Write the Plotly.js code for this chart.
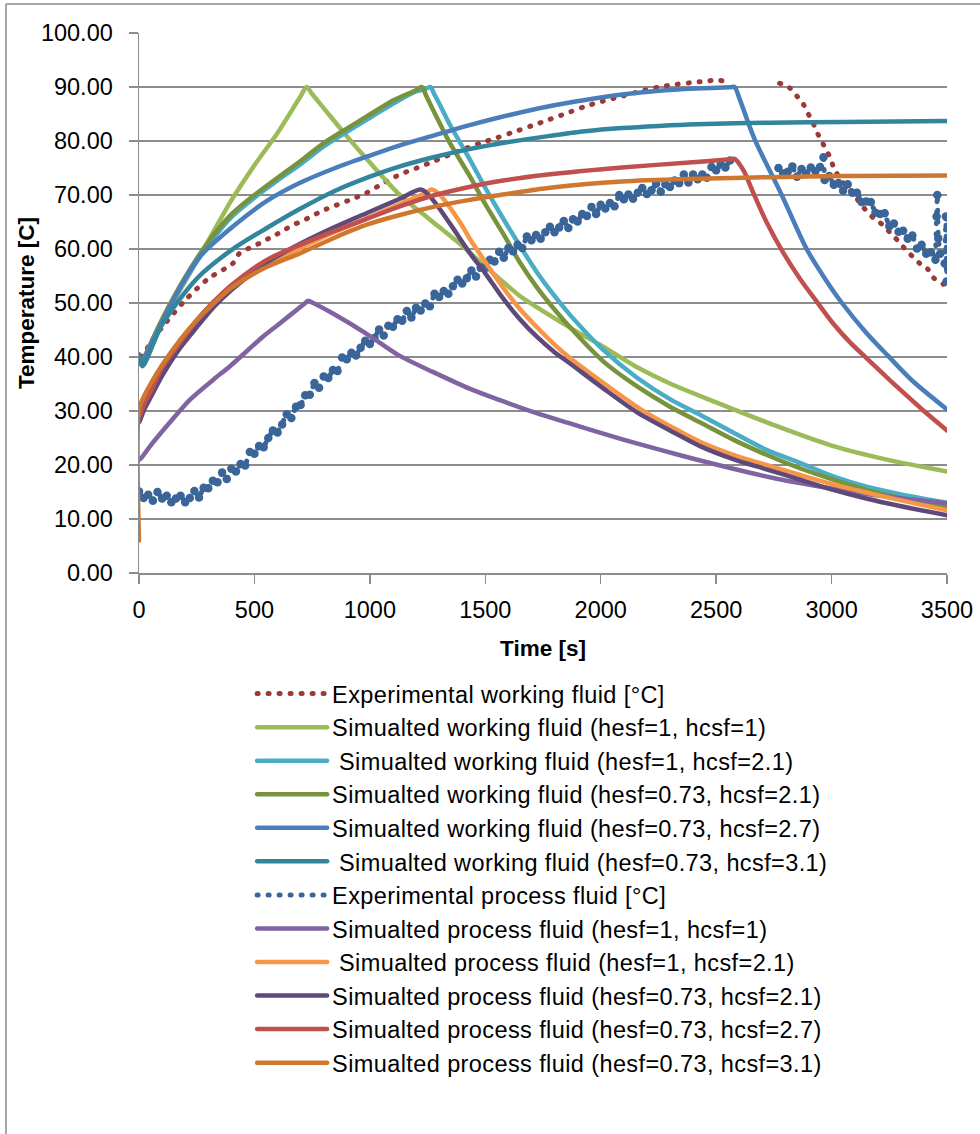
<!DOCTYPE html>
<html><head><meta charset="utf-8">
<script src="https://cdn.plot.ly/plotly-3.0.1.min.js"></script>
<style>
html,body{margin:0;padding:0;background:#fff;}
#chart{width:980px;height:1134px;}
.js-line{stroke-linecap:round;}
.legendtext{letter-spacing:0.4px;}
</style></head><body><div id="chart"></div>
<script>
// ---- Series names ----
const names = [
  "Experimental working fluid [°C]",
  "Simualted working fluid (hesf=1, hcsf=1)",
  "\u00A0Simualted working fluid (hesf=1, hcsf=2.1)",
  "Simualted working fluid (hesf=0.73, hcsf=2.1)",
  "Simualted working fluid (hesf=0.73, hcsf=2.7)",
  "\u00A0Simualted working fluid (hesf=0.73, hcsf=3.1)",
  "Experimental process fluid [°C]",
  "Simualted process fluid (hesf=1, hcsf=1)",
  "\u00A0Simualted process fluid (hesf=1, hcsf=2.1)",
  "Simualted process fluid (hesf=0.73, hcsf=2.1)",
  "Simualted process fluid (hesf=0.73, hcsf=2.7)",
  "Simualted process fluid (hesf=0.73, hcsf=3.1)"
];

// 1. Experimental working fluid
const tExpW = [10,33,55,100,200,300,408,437,480,524,560,596,632,668,705,740,777,812,842,914,986,1059,1131,1203,1275,1347,1420,1492,1550,1611,1700,1772,1850,1932,2010,2092,2170,2253,2330,2413,2460,2509,2557,2580,2775,2819,2848,2874,2894,2917,2935,2956,2978,2997,3011,3021,3040,3070,3101,3130,3159,3188,3224,3260,3293,3322,3351,3383,3416,3441,3472,3500];
const yExpW = [40,41.4,43,45.5,50.5,54.5,57.4,59.3,60.2,61.1,61.9,62.7,63.6,64.5,65.1,65.9,66.7,67.4,67.9,69.1,70.4,72.2,73.8,75,76.2,77.5,78.7,79.8,80.6,81.5,82.8,83.9,85.1,86.4,87.4,88.3,89.2,90,90.5,90.9,91.1,91.3,90.7,null,90.7,89.8,88.4,87.1,85.4,83.6,81.8,80,78.3,76.6,74.8,74.1,72.8,71.3,69.8,68.1,66.7,65.5,64.4,62.7,61.3,59.8,58.6,57.3,56.3,54.7,53.7,53.3];

// 2. Simulated working fluid (hesf=1, hcsf=1)
const tW1 = [10,100,200,300,400,500,600,700,726,750,800,900,1000,1130,1250,1400,1500,1650,1750,1900,2000,2150,2300,2500,2750,3000,3250,3500];
const yW1 = [38.7,46.5,54,61.5,69,75.5,81.5,88.3,90,88.7,86.1,80.9,76,70,65.8,60.6,56.8,51.3,48.5,44.6,42.2,38.3,35.1,31.6,27.4,23.6,20.9,18.8];

// 3. Simulated working fluid (hesf=1, hcsf=2.1)
const tW2 = [10,100,200,300,400,500,600,700,800,900,1000,1100,1200,1240,1262,1280,1300,1347,1434,1500,1578,1650,1722,1800,1867,2011,2156,2300,2444,2574,2718,2863,3007,3151,3296,3500];
const yW2 = [38.6,46.6,54.3,60.7,65.9,69.5,72.7,75.7,79,81.7,84.3,86.9,89.2,89.6,90,88.6,87,83,76.5,71.3,65.6,60.6,55.8,51.3,47.8,41.3,36.2,32.2,29,26,22.8,20.4,17.9,16,14.6,13];

// 4. Simulated working fluid (hesf=0.73, hcsf=2.1)
const tW3 = [10,100,200,300,400,500,600,700,800,900,1000,1100,1200,1225,1245,1300,1347,1434,1500,1578,1650,1722,1800,1867,2011,2156,2300,2444,2574,2718,2863,3007,3151,3296,3500];
const yW3 = [38.7,47,54.8,61.3,66.4,70,73.2,76.3,79.6,82.3,84.9,87.5,89.4,90,88.3,83.5,79.6,73.4,68.3,62.8,57.5,53,48.8,45.5,39.2,34.6,30.8,27.6,24.7,21.9,19.4,17.3,15.4,13.9,12.2];

// 5. Simulated working fluid (hesf=0.73, hcsf=2.7)
const tW4 = [10,100,200,264,408,554,700,850,1000,1130,1275,1420,1564,1772,1932,2092,2253,2413,2560,2580,2600,2665,2784,2892,2970,3045,3150,3245,3350,3500];
const yW4 = [38.6,46.5,54.5,58.6,64.2,68.9,72.3,75,77.3,79.2,81,82.8,84.4,86.4,87.6,88.6,89.3,89.7,89.95,90,88,80.5,70,60,54.6,50,44.5,40.2,35.6,30.3];

// 6. Simulated working fluid (hesf=0.73, hcsf=3.1)
const tW5 = [0,15,100,250,400,550,700,850,1000,1130,1275,1420,1600,1772,1932,2092,2253,2413,2733,3054,3500];
const yW5 = [40.5,38.3,46,54.5,59.8,63.8,67.5,70.8,73.4,75.3,77,78.4,79.8,80.9,81.8,82.4,82.8,83.1,83.4,83.5,83.7];

// 7. Experimental process fluid
const tExpP = [0,20,40,60,80,100,120,140,160,180,200,220,240,260,280,300,320,340,360,380,400,420,440,460,480,500,520,540,560,580,600,620,640,660,680,700,720,740,760,780,800,820,840,860,880,900,920,940,960,980,1000,1020,1040,1060,1080,1100,1120,1140,1160,1180,1200,1220,1240,1260,1280,1300,1320,1340,1360,1380,1400,1420,1440,1460,1480,1500,1520,1540,1560,1580,1600,1620,1640,1660,1680,1700,1720,1740,1760,1780,1800,1820,1840,1860,1880,1900,1920,1940,1960,1980,2000,2020,2040,2060,2080,2100,2120,2140,2160,2180,2200,2220,2240,2260,2280,2300,2320,2340,2360,2380,2400,2420,2440,2460,2480,2500,2520,2540,2560,2600,2770,2790,2810,2830,2850,2870,2890,2910,2930,2950,2965,2970,2990,3010,3030,3050,3070,3090,3110,3130,3150,3170,3190,3210,3230,3250,3270,3290,3310,3330,3350,3370,3390,3410,3430,3450,3455,3458,3462,3470,3490,3495,3498,3500];
const yExpP = [15.1,13.9,14.5,13.4,15.0,13.8,14.3,13.1,13.8,14.3,13.1,13.9,15.2,14.0,15.8,15.7,17.1,16.8,18.6,17.4,19.3,18.8,20.2,19.9,22.4,22.1,23.5,23.3,25.0,26.4,26.0,27.5,29.4,28.7,30.8,31.1,32.9,33.0,35.2,34.3,36.4,36.1,37.6,37.4,39.9,39.6,40.8,40.3,41.7,43.0,42.4,43.5,45.1,44.0,45.8,45.6,47.0,46.7,48.5,47.3,49.1,48.6,49.9,49.4,51.7,51.1,52.2,51.7,53.1,54.3,53.6,54.6,56.0,54.9,56.6,56.5,58.0,57.7,59.5,58.4,60.2,59.6,60.8,60.2,62.3,61.6,62.6,61.9,63.1,64.1,63.1,64.0,65.2,63.9,65.5,65.1,66.5,66.1,67.8,66.5,68.2,67.5,68.5,67.9,70.0,69.2,70.1,69.3,70.4,71.3,70.2,70.9,72.1,70.6,72.0,71.5,72.7,72.2,73.8,72.3,73.8,72.9,73.8,73.2,75.2,74.6,75.7,75.1,76.4,null,75.0,74.0,74.3,75.3,73.4,74.8,74.0,75.1,74.4,75.2,77.0,72.8,73.5,71.9,72.2,70.8,72.0,70.4,70.4,68.7,68.8,68.7,66.7,66.5,66.6,64.2,64.7,63.2,63.4,61.9,62.5,60.1,60.8,59.1,59.4,58.0,66.0,70.0,62.0,59.1,57.3,66.0,54.0,57.0];

// 8. Simulated process fluid (hesf=1, hcsf=1)
const tP1 = [2,12,50,100,150,221,322,394,538,600,715,733,755,842,986,1130,1275,1434,1564,1722,1867,2011,2156,2344,2500,2633,2780,2922,3066,3210,3350,3500];
const yP1 = [21,21.4,23.6,26.2,28.7,32.1,35.8,38.3,43.8,45.9,49.8,50.4,50,48,44.3,40.2,37.2,34.1,32,29.6,27.7,25.8,24,21.8,20.1,18.7,17.3,16.2,15.2,14.3,13.6,12.9];

// 9. Simulated process fluid (hesf=1, hcsf=2.1)
const tP2 = [2,25,50,100,175,250,325,400,550,700,850,1000,1130,1200,1250,1267,1300,1333,1400,1434,1500,1578,1650,1722,1800,1867,2011,2170,2300,2430,2580,2718,2860,3007,3150,3296,3500];
const yP2 = [29.5,32,34,37.8,42.3,46.3,49.6,52.5,57,60.2,63.2,65.9,68.3,69.6,70.6,71,70.2,68.5,64.3,61.8,57.6,52.8,48.9,45.6,42.3,39.8,35.2,30.4,27.2,24.3,21.8,20,18.2,16.4,14.9,13.5,11.6];

// 10. Simulated process fluid (hesf=0.73, hcsf=2.1)
const tP3 = [2,25,50,100,175,250,325,400,550,700,850,1000,1130,1224,1275,1347,1434,1500,1578,1650,1722,1800,1867,2011,2156,2300,2430,2580,2718,2863,3007,3150,3296,3500];
const yP3 = [28,30.5,32.5,36.5,41.5,45.5,49.3,52.4,57.4,61,64.1,66.9,69.3,71,69,64.7,59.2,55.5,50.8,47,43.8,40.9,38.8,34.2,29.8,26.4,23.5,21,19.2,17.3,15.4,13.8,12.4,10.7];

// 11. Simulated process fluid (hesf=0.73, hcsf=2.7)
const tP4 = [2,25,50,100,175,250,325,400,550,700,850,1000,1130,1275,1420,1564,1772,2092,2413,2560,2580,2618,2661,2718,2791,2863,2935,3007,3080,3151,3220,3296,3400,3500];
const yP4 = [29,31.5,33.5,38,42.5,46.8,50.3,53.3,57.9,60.8,63.4,65.8,67.9,69.9,71.4,72.6,73.8,75.1,76.1,76.6,76.7,74.6,70.4,65,59.3,54.5,50.3,46.2,42.7,39.8,37,34,30,26.4];

// 12. Simulated process fluid (hesf=0.73, hcsf=3.1)
const tP5 = [0,1,25,50,100,175,250,325,400,550,697,842,986,1130,1275,1420,1564,1772,2092,2413,2733,3054,3500];
const yP5 = [6,30.5,33,35,38.5,43,46.8,50,52.8,56.6,59.2,62,64.5,66.3,67.8,69,70,71.3,72.5,73,73.3,73.5,73.6];

const xs = [tExpW,tW1,tW2,tW3,tW4,tW5,tExpP,tP1,tP2,tP3,tP4,tP5];
const ys = [yExpW,yW1,yW2,yW3,yW4,yW5,yExpP,yP1,yP2,yP3,yP4,yP5];
const colors = ["#9B3A36","#9BBB59","#4BACC6","#77933C","#4A7EBB","#31859C","#3A6598","#8064A2","#F79646","#5F497A","#C0504D","#D0772F"];
const dotted = [true,false,false,false,false,false,true,false,false,false,false,false];

const traces = [];
names.forEach((n,i)=>{
  traces.push({
    type:"scatter", mode:"lines", name:n, x:xs[i], y:ys[i], legendgroup:"g"+i,
    line:{color:colors[i], width: dotted[i]?5:4.5, dash: dotted[i]?"1px,10px":"solid",
          shape: (i===6)?"linear":"spline", smoothing:0.8},
    connectgaps:false, hoverinfo:"skip"
  });
  if (i===6) {
    // dense noisy record: also show each sample as a dot
    traces.push({
      type:"scatter", mode:"markers", name:n, x:xs[i], y:ys[i], legendgroup:"g"+i, showlegend:false,
      marker:{color:colors[i], size:8.5, line:{width:0}}, hoverinfo:"skip"
    });
  }
});

const FONT = "Liberation Sans, Arial, sans-serif";
const gray = "#8C8C8C";
const layout = {
  width:980, height:1134,
  margin:{l:139, r:33, t:33, b:561, pad:0},
  paper_bgcolor:"#fff", plot_bgcolor:"#fff",
  font:{family:FONT, color:"#000"},
  showlegend:true,
  legend:{x:0.14, y:-0.183, xanchor:"left", yanchor:"top", font:{family:FONT, size:23.5, color:"#000"},
          itemwidth:70, bgcolor:"rgba(0,0,0,0)", traceorder:"normal"},
  xaxis:{range:[0,3500], dtick:500, tick0:0, showgrid:false, zeroline:false,
         showline:true, linecolor:gray, linewidth:1.5,
         ticks:"outside", ticklen:9, tickwidth:1.5, tickcolor:gray,
         tickfont:{family:FONT, size:23.5, color:"#000"}, ticklabelstandoff:6,
         title:{text:"Time [s]", font:{family:FONT, size:22.5, weight:"bold", color:"#000"}, standoff:18}},
  yaxis:{range:[0,100], dtick:10, tick0:0, tickformat:".2f", showgrid:true, gridcolor:gray, gridwidth:1.5,
         zeroline:false, showline:true, linecolor:gray, linewidth:1.5,
         ticks:"outside", ticklen:9, tickwidth:1.5, tickcolor:gray,
         tickfont:{family:FONT, size:23.5, color:"#000"}, ticklabelstandoff:11,
         title:{text:"Temperature [C]", font:{family:FONT, size:22.5, weight:"bold", color:"#000"}, standoff:0}},
  shapes:[
    {type:"line", xref:"paper", yref:"paper", x0:-0.1646, x1:1.05, y0:1.0537, y1:1.0537, line:{color:"#888", width:1.5}},
    {type:"line", xref:"paper", yref:"paper", x0:-0.1646, x1:-0.1646, y0:1.0537, y1:-1.05, line:{color:"#888", width:1.5}}
  ]
};
Plotly.newPlot("chart", traces, layout, {displayModeBar:false, staticPlot:true});
</script></body></html>
